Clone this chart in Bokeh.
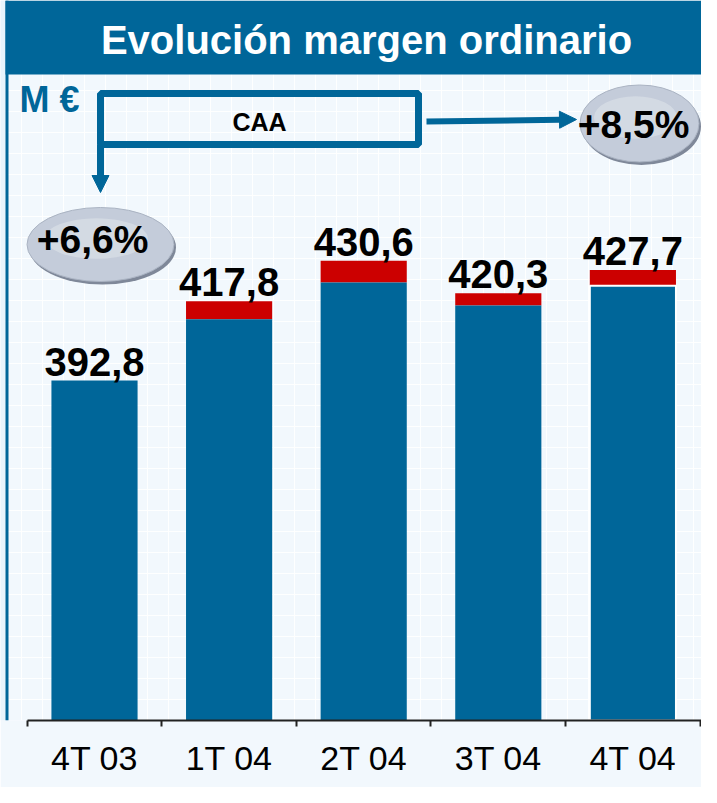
import numpy as np
from bokeh.plotting import figure
from bokeh.models import (Range1d, LinearAxis, FixedTicker, BoxAnnotation, Label,
                          Arrow, NormalHead, ColumnDataSource)
from bokeh.core.properties import value
from bokeh.embed import file_html
from bokeh.resources import INLINE

# ---------------- data ----------------
categories = ["4T 03", "1T 04", "2T 04", "3T 04", "4T 04"]
totals = [392.8, 417.8, 430.6, 420.3, 427.7]          # margen ordinario (M €)
red_part = [0.0, 5.7, 6.9, 3.8, 5.0]                   # red top segment (estimated)
growth_labels = ["+6,6%", "+8,5%"]
box_label = "CAA"
unit_label = "M €"
title_text = "Evolución margen ordinario"

xs = list(range(len(categories)))
blue_part = [t - r for t, r in zip(totals, red_part)]
value_labels = [f"{t:.1f}".replace(".", ",") for t in totals]

BLUE = "#006699"
RED = "#cc0000"
PANEL = "#f2f8fd"
OUTER = "#e8f4fc"
FONT = "Liberation Sans"

W, H = 701, 787
FRAME_H = 720
x_start, x_end = -0.6984, 4.5097
y_start, y_end = 285.6, 512.66

p = figure(width=W, height=H, output_backend="svg", toolbar_location=None,
           x_range=Range1d(x_start, x_end), y_range=Range1d(y_start, y_end),
           x_axis_location=None, y_axis_location=None,
           min_border_left=0, min_border_right=0, min_border_top=0,
           min_border_bottom=H - FRAME_H)
p.background_fill_color = PANEL
p.border_fill_color = PANEL
p.outline_line_color = None

# faint background grid pattern (decoration)
p.xgrid.ticker = FixedTicker(ticks=list(np.arange(x_start, x_end, 21 * (x_end - x_start) / W)))
p.ygrid.ticker = FixedTicker(ticks=list(np.arange(y_start, y_end, 21 * (y_end - y_start) / FRAME_H)))
for g in (p.xgrid, p.ygrid):
    g.grid_line_color = "white"
    g.grid_line_alpha = 0.9
    g.grid_line_width = 1


def px(rx):
    return x_start + (rx - 8) * (x_end - x_start) / W


def py(ry):
    return y_end - (ry - 8) * (y_end - y_start) / FRAME_H


# frame decorations
p.add_layout(BoxAnnotation(right=px(13), fill_color=OUTER, fill_alpha=1, line_color=None, level="underlay"))
p.add_layout(BoxAnnotation(left=px(13), right=px(16), fill_color=BLUE, fill_alpha=1, line_color=None, level="underlay"))
p.add_layout(BoxAnnotation(left=px(13), bottom=py(82), fill_color=BLUE, fill_alpha=1, line_color=None))
p.add_layout(Label(x=px(374), y=py(47), text=title_text, text_font=FONT, text_font_size="40px",
                   text_font_style="bold", text_color="white", text_align="center",
                   text_baseline="middle"))

# bars
src = ColumnDataSource(dict(x=xs, blue=blue_part, total=totals, lab=value_labels,
                            gap_alpha=[0, 0, 0, 0, 1]))
p.vbar(x="x", bottom="blue", top="total", width=0.64, source=src,
       fill_color=RED, line_color=None)
p.vbar(x="x", bottom=0, top="blue", width=0.64, source=src,
       fill_color=BLUE, line_color="white", line_alpha="gap_alpha", line_width=2)
p.text(x="x", y="total", text="lab", source=src, text_font=value(FONT),
       text_font_size="40px", text_font_style="bold", text_color="black",
       text_align="center", text_baseline="middle", y_offset=-19)

# x axis
ax = LinearAxis(ticker=FixedTicker(ticks=xs, minor_ticks=[i - 0.5 for i in range(len(xs) + 1)]))
ax.major_label_overrides = {i: c for i, c in zip(xs, categories)}
ax.bounds = (-0.5, 4.6)
ax.axis_line_color = "#222222"
ax.axis_line_width = 2
ax.major_tick_line_color = None
ax.major_tick_in = 0
ax.major_tick_out = 0
ax.minor_tick_line_color = "#222222"
ax.minor_tick_line_width = 2
ax.minor_tick_in = 0
ax.minor_tick_out = 6
ax.major_label_standoff = 12
ax.major_label_text_font = FONT
ax.major_label_text_font_size = "34px"
ax.major_label_text_color = "black"
p.add_layout(ax, "below")

# unit label
p.add_layout(Label(x=px(57), y=py(107), text=unit_label, text_font=FONT, text_font_size="36px",
                   text_font_style="bold", text_color=BLUE, text_align="center",
                   text_baseline="middle"))

# CAA box and arrows
p.add_layout(BoxAnnotation(left=px(108), right=px(426), top=py(101), bottom=py(152),
                           fill_alpha=0, line_color=BLUE, line_alpha=1, line_width=7))
p.add_layout(Label(x=px(267), y=py(129), text=box_label, text_font=FONT, text_font_size="25px",
                   text_font_style="bold", text_color="black", text_align="center",
                   text_baseline="middle"))
p.add_layout(Arrow(x_start=px(108), y_start=py(152), x_end=px(108), y_end=py(200),
                   line_color=BLUE, line_width=7,
                   end=NormalHead(size=17, fill_color=BLUE, line_color=BLUE)))
p.add_layout(Arrow(x_start=px(434), y_start=py(129), x_end=px(584), y_end=py(127),
                   line_color=BLUE, line_width=6,
                   end=NormalHead(size=17, fill_color=BLUE, line_color=BLUE)))

# growth ellipses
ell = [(108, 252, 147, 74, 100, 247), (647, 131, 119, 77, 641, 132)]
for (cx, cy, ew, eh, tx, ty), g in zip(ell, growth_labels):
    p.ellipse(x=[px(cx + 2)], y=[py(cy + 3)], width=ew, height=eh,
              width_units="screen", height_units="screen",
              fill_color="#7f8899", line_color=None)
    p.ellipse(x=[px(cx)], y=[py(cy)], width=ew, height=eh,
              width_units="screen", height_units="screen",
              fill_color="#c4ccda", line_color="#aab3c2", line_width=1)
    p.ellipse(x=[px(cx - 4)], y=[py(cy - 6)], width=ew * 0.7, height=eh * 0.55,
              width_units="screen", height_units="screen",
              fill_color="#dde2ea", fill_alpha=0.6, line_color=None)
    p.add_layout(Label(x=px(tx), y=py(ty), text=g, text_font=FONT, text_font_size="39px",
                       text_font_style="bold", text_color="black", text_align="center",
                       text_baseline="middle"))

open("out.html", "w").write(file_html(p, INLINE))
